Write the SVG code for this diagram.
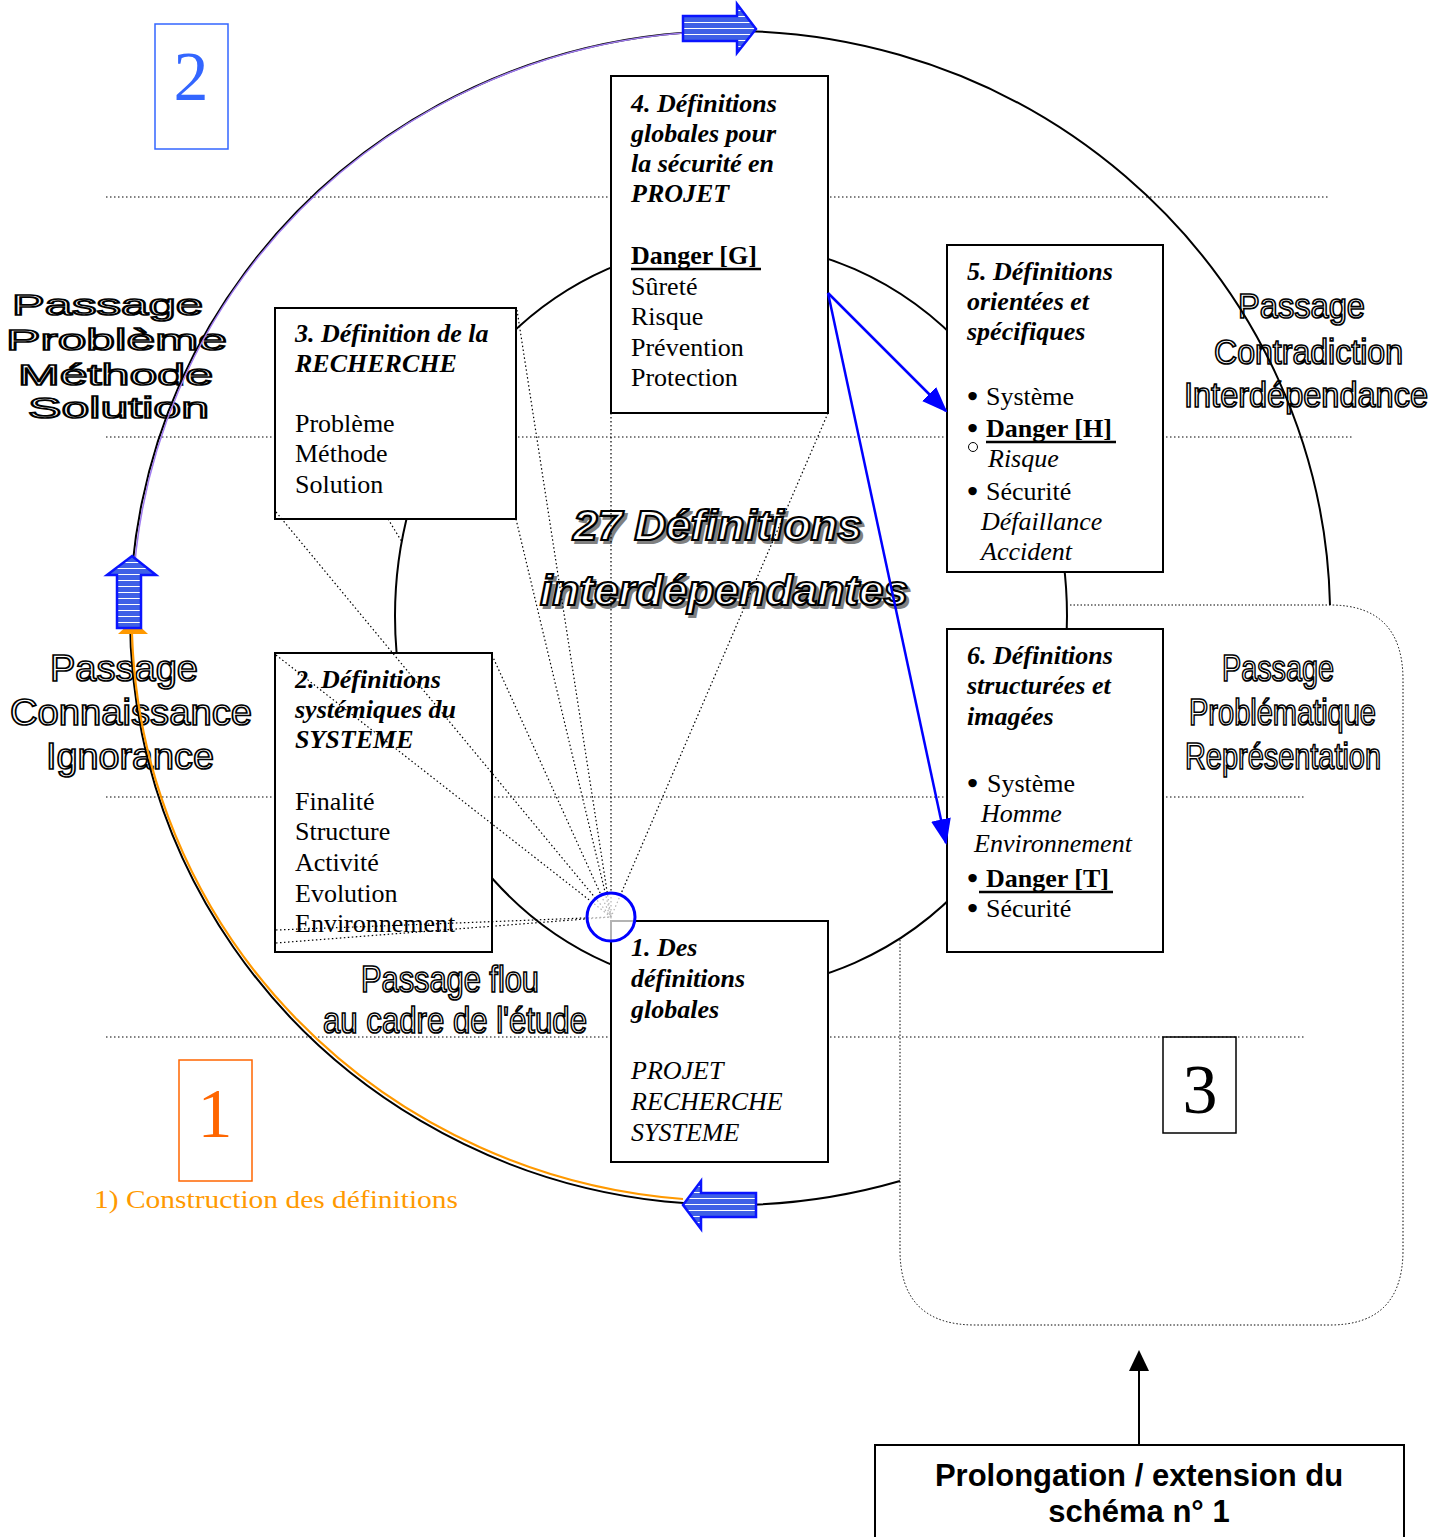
<svg xmlns="http://www.w3.org/2000/svg" width="1447" height="1537" viewBox="0 0 1447 1537">
<style>
.guide{stroke:#000;stroke-width:1;stroke-dasharray:1.5 2.5;fill:none}
.fan{stroke:#000;stroke-width:1.2;stroke-dasharray:1.5 2.5;fill:none}
.box{fill:#fff;stroke:#000;stroke-width:2}
.t{font-family:"Liberation Serif","Times New Roman",serif;font-size:26px;fill:#000}
.bi{font-weight:bold;font-style:italic}
.b{font-weight:bold}
.i{font-style:italic}
.bul{stroke:#000;stroke-width:2.2}
.ol{font-family:"Liberation Sans",Arial,sans-serif;fill:#fff;stroke:#000;stroke-width:1.7}
.blk{fill:url(#stripes);stroke:#0a14ff;stroke-width:2.5;stroke-linejoin:miter}
.ul{stroke:#000;stroke-width:2.5}
</style>
<defs>
<pattern id="stripes" patternUnits="userSpaceOnUse" width="12" height="6">
<rect width="12" height="6" fill="#3f60e6"/>
<rect y="4" width="12" height="1" fill="#ffffff"/>
</pattern>
<marker id="ab" markerWidth="26" markerHeight="20" refX="24" refY="10" orient="auto" markerUnits="userSpaceOnUse">
<path d="M0,0 L26,10 L0,20 Z" fill="#0000ff"/>
</marker>
</defs>
<rect width="1447" height="1537" fill="#fff"/>

<g id="guides">
<line class="guide" x1="106" y1="197" x2="1330" y2="197"/>
<line class="guide" x1="106" y1="437" x2="1352" y2="437"/>
<line class="guide" x1="106" y1="797" x2="1306" y2="797"/>
<line class="guide" x1="106" y1="1037" x2="1306" y2="1037"/>
</g>

<g id="labels">
<text class="ol" font-size="30" x="12" y="315" textLength="191" lengthAdjust="spacingAndGlyphs">Passage</text>
<text class="ol" font-size="30" x="6" y="350" textLength="221" lengthAdjust="spacingAndGlyphs">Problème</text>
<text class="ol" font-size="30" x="18" y="385" textLength="195" lengthAdjust="spacingAndGlyphs">Méthode</text>
<text class="ol" font-size="30" x="28" y="418" textLength="181" lengthAdjust="spacingAndGlyphs">Solution</text>

<text class="ol" font-size="37" x="50" y="681" textLength="148" lengthAdjust="spacingAndGlyphs">Passage</text>
<text class="ol" font-size="37" x="10" y="725" textLength="242" lengthAdjust="spacingAndGlyphs">Connaissance</text>
<text class="ol" font-size="37" x="46" y="769" textLength="168" lengthAdjust="spacingAndGlyphs">Ignorance</text>

<text class="ol" font-size="35" x="1238" y="318" textLength="127" lengthAdjust="spacingAndGlyphs">Passage</text>
<text class="ol" font-size="35" x="1214" y="364" textLength="189" lengthAdjust="spacingAndGlyphs">Contradiction</text>
<text class="ol" font-size="35" x="1184" y="407" textLength="244" lengthAdjust="spacingAndGlyphs">Interdépendance</text>

<text class="ol" font-size="36" x="1222" y="681" textLength="112" lengthAdjust="spacingAndGlyphs">Passage</text>
<text class="ol" font-size="36" x="1189" y="725" textLength="187" lengthAdjust="spacingAndGlyphs">Problématique</text>
<text class="ol" font-size="36" x="1185" y="769" textLength="196" lengthAdjust="spacingAndGlyphs">Représentation</text>

<text class="ol" font-size="36" x="361" y="992" textLength="178" lengthAdjust="spacingAndGlyphs">Passage flou</text>
<text class="ol" font-size="36" x="323" y="1033" textLength="264" lengthAdjust="spacingAndGlyphs">au cadre de l'étude</text>

<g font-family="Liberation Sans,Arial,sans-serif" font-size="42" font-weight="bold" font-style="italic">
<text x="576" y="543" fill="#808080" stroke="#808080" stroke-width="2" textLength="289" lengthAdjust="spacingAndGlyphs">27 Définitions</text>
<text x="543" y="608" fill="#808080" stroke="#808080" stroke-width="2" textLength="368" lengthAdjust="spacingAndGlyphs">interdépendantes</text>
<text x="573" y="540" fill="#fff" stroke="#000" stroke-width="2.2" textLength="289" lengthAdjust="spacingAndGlyphs">27 Définitions</text>
<text x="540" y="605" fill="#fff" stroke="#000" stroke-width="2.2" textLength="368" lengthAdjust="spacingAndGlyphs">interdépendantes</text>
</g>
</g>

<g id="connectors">
<path d="M 900 1181 A 600 587 0 1 1 1330 605" fill="none" stroke="#000" stroke-width="2"/>
<path d="M 133 590 A 598 585 0 0 1 683 33" fill="none" stroke="#a07cf0" stroke-width="1.5"/>
<path d="M 683 1199 A 598 585 0 0 1 132 634" fill="none" stroke="#ff9900" stroke-width="2.2"/>
<path d="M 118 634 L 148 634 L 133 620 Z" fill="#ff9900"/>
<ellipse cx="731" cy="616" rx="336" ry="373" fill="none" stroke="#000" stroke-width="2"/>
<path d="M 1070 605 H 1330 Q 1403 605 1403 680 V 1250 Q 1403 1325 1330 1325 H 975 Q 900 1325 900 1250 V 940" fill="none" stroke="#000" stroke-width="1" stroke-dasharray="1.5 2"/>
</g>

<g id="node4">
<rect class="box" x="611" y="76" width="217" height="337"/>
<text class="t bi" x="631" y="112">4. Définitions</text>
<text class="t bi" x="631" y="142">globales pour</text>
<text class="t bi" x="631" y="172">la sécurité en</text>
<text class="t bi" x="631" y="202">PROJET</text>
<text class="t b" x="631" y="264">Danger [G]</text>
<line class="ul" x1="631" y1="269" x2="761" y2="269"/>
<text class="t" x="631" y="295">Sûreté</text>
<text class="t" x="631" y="325">Risque</text>
<text class="t" x="631" y="356">Prévention</text>
<text class="t" x="631" y="386">Protection</text>
</g>

<g id="node3">
<rect class="box" x="275" y="308" width="241" height="211"/>
<text class="t bi" x="295" y="342">3. Définition de la</text>
<text class="t bi" x="295" y="372">RECHERCHE</text>
<text class="t" x="295" y="432">Problème</text>
<text class="t" x="295" y="462">Méthode</text>
<text class="t" x="295" y="493">Solution</text>
</g>

<g id="node5">
<rect class="box" x="947" y="245" width="216" height="327"/>
<text class="t bi" x="967" y="280">5. Définitions</text>
<text class="t bi" x="967" y="310">orientées et</text>
<text class="t bi" x="967" y="340">spécifiques</text>
<text class="t" x="968" y="405"><tspan class="bul">•</tspan><tspan x="986">Système</tspan></text>
<text class="t" x="968" y="437"><tspan class="bul">•</tspan><tspan x="986" font-weight="bold">Danger [H]</tspan></text>
<line class="ul" x1="986" y1="442" x2="1116" y2="442"/>
<circle cx="973" cy="447" r="4.5" fill="none" stroke="#000" stroke-width="1"/>
<text class="t i" x="988" y="467">Risque</text>
<text class="t" x="968" y="500"><tspan class="bul">•</tspan><tspan x="986">Sécurité</tspan></text>
<text class="t i" x="981" y="530">Défaillance</text>
<text class="t i" x="981" y="560">Accident</text>
</g>

<g id="node6">
<rect class="box" x="947" y="629" width="216" height="323"/>
<text class="t bi" x="967" y="664">6. Définitions</text>
<text class="t bi" x="967" y="694">structurées et</text>
<text class="t bi" x="967" y="725">imagées</text>
<text class="t" x="968" y="792"><tspan class="bul">•</tspan><tspan x="987">Système</tspan></text>
<text class="t i" x="981" y="822">Homme</text>
<text class="t i" x="974" y="852">Environnement</text>
<text class="t" x="968" y="887"><tspan class="bul">•</tspan><tspan x="986" font-weight="bold">Danger [T]</tspan></text>
<line class="ul" x1="979" y1="892" x2="1113" y2="892"/>
<text class="t" x="968" y="917"><tspan class="bul">•</tspan><tspan x="986">Sécurité</tspan></text>
</g>

<g id="node2">
<rect class="box" x="275" y="653" width="217" height="299"/>
<text class="t bi" x="295" y="688">2. Définitions</text>
<text class="t bi" x="295" y="718">systémiques du</text>
<text class="t bi" x="295" y="748">SYSTEME</text>
<text class="t" x="295" y="810">Finalité</text>
<text class="t" x="295" y="840">Structure</text>
<text class="t" x="295" y="871">Activité</text>
<text class="t" x="295" y="902">Evolution</text>
<text class="t" x="295" y="932">Environnement</text>
</g>

<g id="node1">
<rect class="box" x="611" y="921" width="217" height="241"/>
<text class="t bi" x="631" y="956">1. Des</text>
<text class="t bi" x="631" y="987">définitions</text>
<text class="t bi" x="631" y="1018">globales</text>
<text class="t i" x="631" y="1079">PROJET</text>
<text class="t i" x="631" y="1110">RECHERCHE</text>
<text class="t i" x="631" y="1141">SYSTEME</text>
</g>

<g id="fan">
<line class="fan" x1="276" y1="512" x2="611" y2="917"/>
<line class="fan" x1="388" y1="519" x2="402" y2="542"/>
<line class="fan" x1="517" y1="310" x2="611" y2="917"/>
<line class="fan" x1="516" y1="519" x2="611" y2="917"/>
<line class="fan" x1="611" y1="413" x2="611" y2="921"/>
<line class="fan" x1="828" y1="413" x2="611" y2="917"/>
<line class="fan" x1="276" y1="655" x2="611" y2="917"/>
<line class="fan" x1="492" y1="655" x2="611" y2="917"/>
<line class="fan" x1="276" y1="930" x2="611" y2="917"/>
<line class="fan" x1="276" y1="943" x2="611" y2="917"/>
</g>

<g id="blue-arrows">
<line x1="828" y1="293" x2="946" y2="411" stroke="#0000ff" stroke-width="2.5" marker-end="url(#ab)"/>
<line x1="828" y1="293" x2="946" y2="843" stroke="#0000ff" stroke-width="2.5" marker-end="url(#ab)"/>
</g>

<g id="hub">
<circle cx="611" cy="917" r="24" fill="#fff" fill-opacity="0.7" stroke="#0000ff" stroke-width="3"/>
</g>

<g id="block-arrows">
<path class="blk" d="M 683 16 H 737 V 4 L 756 29 L 737 53 V 41 H 683 Z"/>
<path class="blk" d="M 756 1193 H 701 V 1181 L 683 1205 L 701 1229 V 1217 H 756 Z"/>
<path class="blk" d="M 132 556 L 156 575 H 141 V 628 H 117 V 575 H 107 Z"/>
</g>

<g id="zone2">
<rect x="155" y="24" width="73" height="125" fill="none" stroke="#3366ff" stroke-width="1.5"/>
<text x="191" y="100" text-anchor="middle" font-family="Liberation Serif,serif" font-size="70" fill="#3366ff">2</text>
</g>
<g id="zone1">
<rect x="179" y="1060" width="73" height="121" fill="none" stroke="#ff6600" stroke-width="1.5"/>
<text x="215" y="1137" text-anchor="middle" font-family="Liberation Serif,serif" font-size="70" fill="#ff6600">1</text>
<text x="94" y="1208" font-family="Liberation Serif,serif" font-size="26" fill="#ff9900" textLength="364" lengthAdjust="spacingAndGlyphs">1) Construction des définitions</text>
</g>
<g id="zone3">
<rect x="1163" y="1037" width="73" height="96" fill="none" stroke="#000" stroke-width="1.5"/>
<text x="1200" y="1113" text-anchor="middle" font-family="Liberation Serif,serif" font-size="70" fill="#000">3</text>
</g>

<g id="prolongation">
<line x1="1139" y1="1445" x2="1139" y2="1368" stroke="#000" stroke-width="2"/>
<path d="M 1129 1371 L 1139 1350 L 1149 1371 Z" fill="#000"/>
<rect x="875" y="1445" width="529" height="100" fill="#fff" stroke="#000" stroke-width="2"/>
<text x="1139" y="1486" text-anchor="middle" font-family="Liberation Sans,Arial,sans-serif" font-size="31" font-weight="bold">Prolongation / extension du</text>
<text x="1139" y="1522" text-anchor="middle" font-family="Liberation Sans,Arial,sans-serif" font-size="31" font-weight="bold">schéma n° 1</text>
</g>
</svg>
